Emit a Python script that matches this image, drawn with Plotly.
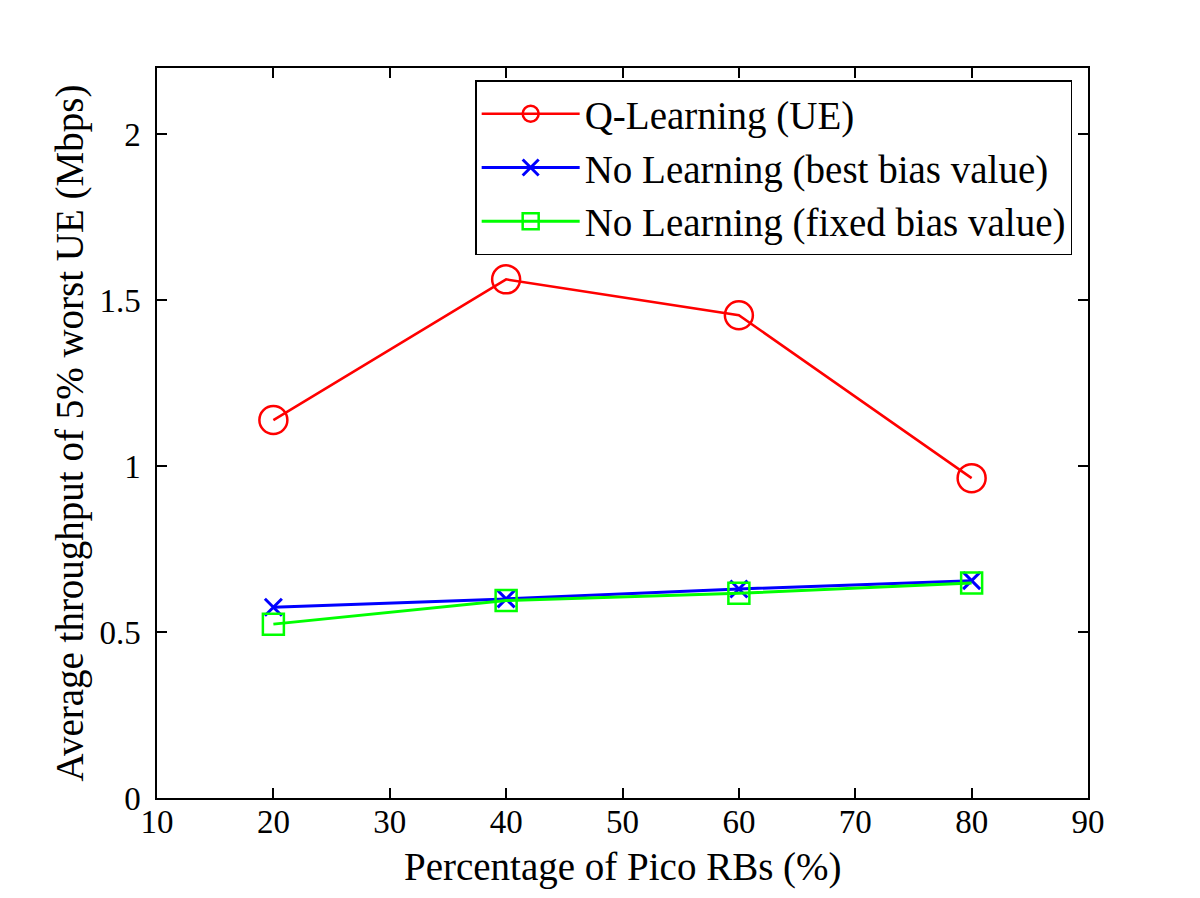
import plotly.graph_objects as go

x_vals = [20, 40, 60, 80]
q_learning = [1.139, 1.563, 1.455, 0.964]
best_bias = [0.575, 0.600, 0.630, 0.655]
fixed_bias = [0.524, 0.595, 0.617, 0.648]
names = ["Q-Learning (UE)", "No Learning (best bias value)", "No Learning (fixed bias value)"]
x_title = "Percentage of Pico RBs (%)"
y_title = "Average throughput of 5% worst UE (Mbps)"

font_family = "Liberation Serif, Times New Roman, serif"

fig = go.Figure()
fig.add_trace(go.Scatter(x=x_vals, y=q_learning, name=names[0], mode="lines+markers",
                         line=dict(color="#ff0000", width=2.5),
                         marker=dict(symbol="circle-open", size=28, color="#ff0000", line=dict(width=2.5))))
fig.add_trace(go.Scatter(x=x_vals, y=best_bias, name=names[1], mode="lines+markers",
                         line=dict(color="#0000ff", width=3),
                         marker=dict(symbol="x-thin-open", size=17, color="#0000ff", line=dict(width=3, color="#0000ff"))))
fig.add_trace(go.Scatter(x=x_vals, y=fixed_bias, name=names[2], mode="lines+markers",
                         line=dict(color="#00ff00", width=3),
                         marker=dict(symbol="square-open", size=21, color="#00ff00", line=dict(width=2.5))))

axis_common = dict(showgrid=False, zeroline=False, showline=True, linecolor="black", linewidth=1.5,
                   mirror="ticks", ticks="inside", ticklen=10, tickwidth=1.5, tickcolor="black",
                   tickfont=dict(family=font_family, size=33, color="black"))

fig.update_xaxes(range=[10, 90], tickvals=[10, 20, 30, 40, 50, 60, 70, 80, 90],
                 ticklabelstandoff=-6, title=dict(text=""),
                 **axis_common)
fig.update_yaxes(range=[0, 2.2], tickvals=[0, 0.5, 1, 1.5, 2], ticktext=["0", "0.5", "1", "1.5", "2"],
                 ticklabelstandoff=8,
                 title=dict(text=y_title, font=dict(family=font_family, size=39, color="black"), standoff=4),
                 **axis_common)

fig.add_annotation(text=x_title, xref="paper", yref="paper", x=0.5, y=-0.0945,
                   xanchor="center", yanchor="middle", showarrow=False,
                   font=dict(family=font_family, size=39, color="black"))

fig.update_layout(
    width=1184, height=882,
    margin=dict(l=149, r=104, t=60, b=92, autoexpand=False),
    paper_bgcolor="white", plot_bgcolor="white",
    font=dict(family=font_family, color="black"),
    legend=dict(x=0.983, y=0.983, xanchor="right", yanchor="top",
                bgcolor="white", bordercolor="black", borderwidth=1.5,
                font=dict(family=font_family, size=39, color="black"),
                tracegroupgap=0, itemwidth=98),
    showlegend=True,
)

fig.write_html("out.html")
